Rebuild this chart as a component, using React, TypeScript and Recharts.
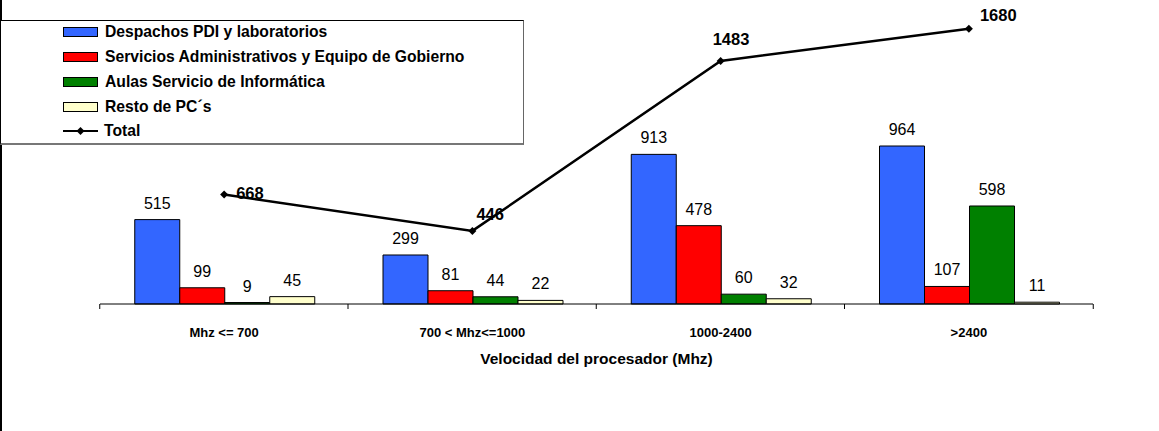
import React from 'react';
import {
  Bar,
  ComposedChart,
  LabelList,
  Legend,
  Line,
  XAxis,
  YAxis,
} from 'recharts';

const categorias = ['Mhz <= 700', '700 < Mhz<=1000', '1000-2400', '>2400'];
const despachos = [515, 299, 913, 964];
const servicios = [99, 81, 478, 107];
const aulas = [9, 44, 60, 598];
const resto = [45, 22, 32, 11];
const total = [668, 446, 1483, 1680];

const series = [
  {key: 'despachos', name: 'Despachos PDI y laboratorios', color: '#3366FF'},
  {key: 'servicios', name: 'Servicios Administrativos y Equipo de Gobierno', color: '#FF0000'},
  {key: 'aulas', name: 'Aulas Servicio de Informática', color: '#008000'},
  {key: 'resto', name: 'Resto de PC´s', color: '#FFFFCC'},
];

const data = categorias.map((cat, i) => ({
  cat,
  despachos: despachos[i],
  servicios: servicios[i],
  aulas: aulas[i],
  resto: resto[i],
  total: total[i],
}));

const W = 1159;
const H = 431;
const axisH = 30;
const margin = {top: 9, right: 66, left: 98, bottom: 127 - axisH};
const halfBand = (W - margin.left - margin.right) / categorias.length / 2;
const font = '"Liberation Sans", Arial, sans-serif';

// desplazamiento de las etiquetas del total (dx, dy) como en el original
const totalLabelShift = [[12, -2], [4, -17], [-8, -22], [11, -14]];

const CategoryTick = (props: any) => {
  const {x, y, payload, index} = props;
  return (
    <g>
      <line x1={x - halfBand} y1={y} x2={x - halfBand} y2={y + 5} stroke="#000" />
      {index === categorias.length - 1 && (
        <line x1={x + halfBand} y1={y} x2={x + halfBand} y2={y + 5} stroke="#000" />
      )}
      <text
        x={x}
        y={y + 33}
        textAnchor="middle"
        fontSize={13}
        fontWeight="bold"
        fontFamily={font}
        fill="#000"
      >
        {payload.value}
      </text>
    </g>
  );
};

const Diamond = (props: any) => {
  const {cx, cy} = props;
  if (cx == null || cy == null) return null;
  const r = 4;
  return (
    <polygon
      points={`${cx},${cy - r} ${cx + r},${cy} ${cx},${cy + r} ${cx - r},${cy}`}
      fill="#000"
    />
  );
};

const TotalLabel = (props: any) => {
  const {x, y, value, index} = props;
  const [dx, dy] = totalLabelShift[index] || [8, -12];
  return (
    <text
      x={x + dx}
      y={y + dy + 6}
      fontSize={16.5}
      fontWeight="bold"
      fontFamily={font}
      fill="#000"
    >
      {value}
    </text>
  );
};

const Leyenda = () => (
  <div
    style={{
      position: 'relative',
      width: 524,
      height: 125,
      boxSizing: 'border-box',
      border: '1px solid #000',
      borderRightColor: '#666',
      borderBottom: '2px solid #777',
      background: '#fff',
      fontFamily: font,
      fontWeight: 'bold',
      fontSize: 15.7,
    }}
  >
    {series.map((s, i) => (
      <div key={s.key} style={{position: 'absolute', left: 62, top: 2 + i * 25, height: 18, display: 'flex', alignItems: 'center', whiteSpace: 'nowrap'}}>
        <div style={{width: 33, height: 8, background: s.color, border: '1px solid #000'}} />
        <span style={{marginLeft: 7}}>{s.name}</span>
      </div>
    ))}
    <div style={{position: 'absolute', left: 62, top: 1 + 4 * 25, height: 18, display: 'flex', alignItems: 'center'}}>
      <svg width={35} height={10}>
        <line x1={0} y1={5} x2={35} y2={5} stroke="#000" strokeWidth={2} />
        <polygon points="17.5,1 21.5,5 17.5,9 13.5,5" fill="#000" />
      </svg>
      <span style={{marginLeft: 6}}>Total</span>
    </div>
  </div>
);

const App = () => {
  return (
    <div
      style={{
        position: 'absolute',
        left: 0,
        top: 0,
        width: W,
        height: H,
        background: '#fff',
        borderLeft: '2px solid #000',
        boxSizing: 'border-box',
      }}
    >
      <ComposedChart
        width={W - 2}
        height={H}
        data={data}
        margin={margin}
        barCategoryGap="14%"
        barGap={0}
      >
        <XAxis
          dataKey="cat"
          stroke="#000"
          tickLine={false}
          tickSize={0}
          tickMargin={0}
          height={axisH}
          tick={<CategoryTick />}
          label={{
            value: 'Velocidad del procesador (Mhz)',
            position: 'bottom',
            offset: 19,
            fontSize: 15.5,
            fontWeight: 'bold',
            fontFamily: font,
            fill: '#000',
          }}
        />
        <YAxis hide domain={[0, 1800]} />
        <Legend
          layout="vertical"
          align="center"
          verticalAlign="middle"
          wrapperStyle={{top: 20, left: -2, width: 524, height: 125}}
          content={() => <Leyenda />}
        />
        {series.map((s) => (
          <Bar
            key={s.key}
            dataKey={s.key}
            name={s.name}
            fill={s.color}
            stroke="#000"
            strokeWidth={1}
            isAnimationActive={false}
          >
            <LabelList
              dataKey={s.key}
              position="top"
              offset={11}
              fontSize={16}
              fontFamily={font}
              fill="#000"
            />
          </Bar>
        ))}
        <Line
          dataKey="total"
          name="Total"
          stroke="#000"
          strokeWidth={2.5}
          type="linear"
          dot={<Diamond />}
          activeDot={false}
          isAnimationActive={false}
        >
          <LabelList dataKey="total" content={<TotalLabel />} />
        </Line>
      </ComposedChart>
    </div>
  );
};

export default App;
